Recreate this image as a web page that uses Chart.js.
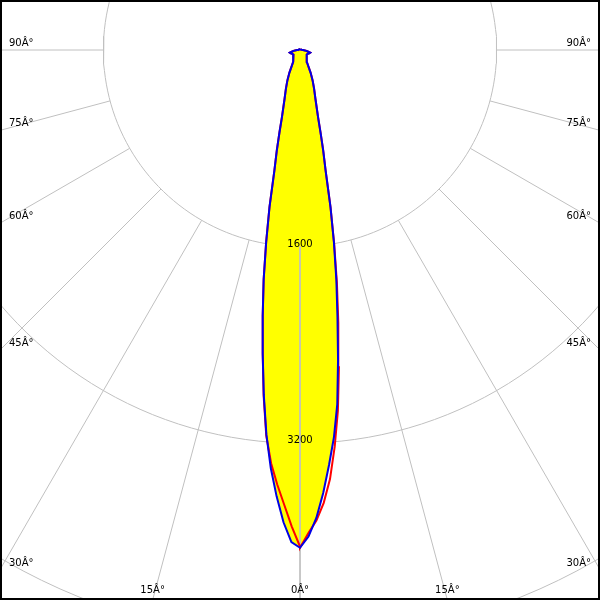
<!DOCTYPE html>
<html><head><meta charset="utf-8">
<script src="https://cdn.jsdelivr.net/npm/chart.js@4"></script>
<style>html,body{margin:0;padding:0;background:#fff}#wrap{width:600px;height:600px;position:relative}</style>
</head><body><div id="wrap"><canvas id="c" width="600" height="600"></canvas></div>
<script>
// polar angles (degrees from nadir) and intensities (cd)
const angles    = [0,1,2,3,4,5,6,7,8,9,10,11,12,13,14,15,17.5,20,22.5,25,30,35,40,45,50,55,60,65,70,75,80,85,90,100,120,150,180];
const blueLeft  = [4050,4005,3845,3637,3410,3140,2820,2490,2180,1890,1585,1300,1000,840,690,570,418,335,268,205,112,97,88,78,70,65,68,72,80,86,60,40,25,14,9,8,8];
const blueRight = [4050,3960,3810,3610,3385,3165,2900,2540,2190,1890,1590,1300,1000,840,690,570,418,335,268,205,110,96,88,78,70,65,68,72,80,86,60,40,25,14,9,8,8];
const redLeft   = [4040,3876,3700,3540,3370,3150,2830,2490,2180,1890,1585,1300,1000,840,690,570,418,335,268,205,112,97,88,78,70,65,68,72,80,86,60,40,25,14,9,8,8];
const redRight  = [4050,3930,3830,3690,3500,3240,2950,2600,2240,1920,1600,1300,1000,840,690,570,418,335,268,205,110,96,88,78,70,65,68,72,80,86,60,40,25,14,9,8,8];
const rings      = [1600, 3200, 4800];
const ringLabels = ['1600', '3200', '4800'];
const gridAngles = [-90,-75,-60,-45,-30,-15,0,15,30,45,60,75,90];
const gridLabels = ['90Â°','75Â°','60Â°','45Â°','30Â°','15Â°','0Â°','15Â°','30Â°','45Â°','60Â°','75Â°','90Â°'];

const D = Math.PI / 180;
const K = 0.1229; // px per cd
const polar = (r, deg) => ({x: r * Math.sin(deg * D), y: -r * Math.cos(deg * D)});

function curve(left, right) {
  const pts = [];
  for (let i = angles.length - 1; i >= 0; i--) pts.push(polar(left[i], -angles[i]));
  for (let i = 0; i < angles.length; i++) pts.push(polar(right[i], angles[i]));
  return pts;
}
function ring(r) {
  const pts = [];
  for (let a = -180; a <= 180; a += 2) pts.push(polar(r, a));
  return pts;
}

const GRID = '#c0c0c0';
const datasets = [];
rings.forEach(r => datasets.push({data: ring(r), borderColor: GRID, borderWidth: 1, pointRadius: 0, showLine: true, fill: false, order: 10}));
datasets.push({data: curve(blueLeft, blueRight), borderColor: 'rgba(0,0,0,0)', borderWidth: 0, backgroundColor: '#ffff00', pointRadius: 0, showLine: true, fill: 'shape', order: 8});
gridAngles.forEach(g => datasets.push({data: [polar(rings[0], g), polar(9000, g)], borderColor: GRID, borderWidth: 1, pointRadius: 0, showLine: true, fill: false, order: 6}));
datasets.push({data: curve(redLeft, redRight), borderColor: '#ff0000', borderWidth: 2, pointRadius: 0, showLine: true, fill: false, order: 4});
datasets.push({data: curve(blueLeft, blueRight), borderColor: '#0000e6', borderWidth: 2, pointRadius: 0, showLine: true, fill: false, order: 3});

const labelsPlugin = {
  id: 'labels',
  afterDraw(chart) {
    const {ctx, scales: {x, y}} = chart;
    const W = chart.width, H = chart.height;
    const cx = x.getPixelForValue(0), cy = y.getPixelForValue(0);
    ctx.save();
    ctx.font = '10px "DejaVu Sans"';
    ctx.fillStyle = '#000';
    ctx.textBaseline = 'alphabetic';
    gridAngles.forEach((g, i) => {
      const dx = Math.sin(g * D), dy = Math.cos(g * D);
      let t = Infinity;
      if (dx < -1e-9) t = Math.min(t, (0 - cx) / dx);
      if (dx > 1e-9) t = Math.min(t, (W - cx) / dx);
      if (dy > 1e-9) t = Math.min(t, (H - cy) / dy);
      const ex = cx + dx * t, ey = cy + dy * t;
      if (ey >= H - 1) { ctx.textAlign = 'center'; ctx.fillText(gridLabels[i], ex, H - 7); }
      else if (dx < 0) { ctx.textAlign = 'left'; ctx.fillText(gridLabels[i], 9, ey - 4); }
      else { ctx.textAlign = 'right'; ctx.fillText(gridLabels[i], W - 9, ey - 4); }
    });
    ctx.textAlign = 'center';
    rings.forEach((r, i) => {
      const py = y.getPixelForValue(-r);
      if (py < H) ctx.fillText(ringLabels[i], cx, py);
    });
    ctx.strokeStyle = '#000';
    ctx.lineWidth = 2;
    ctx.strokeRect(1, 1, W - 2, H - 2);
    ctx.restore();
  }
};

new Chart(document.getElementById('c'), {
  type: 'scatter',
  data: {datasets},
  options: {
    responsive: false,
    animation: false,
    layout: {padding: 0},
    scales: {
      x: {type: 'linear', display: false, min: -300 / K, max: 300 / K},
      y: {type: 'linear', display: false, min: -550 / K, max: 50 / K}
    },
    plugins: {legend: {display: false}, tooltip: {enabled: false}, filler: {drawTime: 'beforeDatasetDraw'}},
    elements: {line: {tension: 0}}
  },
  plugins: [labelsPlugin]
});
</script></body></html>
